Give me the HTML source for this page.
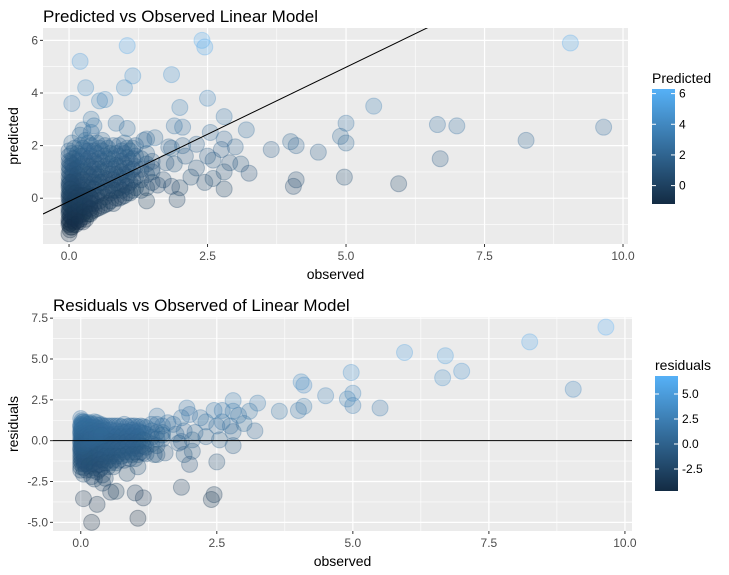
<!DOCTYPE html>
<html><head><meta charset="utf-8"><style>
body{margin:0;background:#fff;font-family:"Liberation Sans",Arial,sans-serif}
svg{display:block}
</style></head><body>
<svg id="c" width="729" height="575" xmlns="http://www.w3.org/2000/svg"></svg>
<script>
// ---- data ----
const groupObs = [0,0.05,0.1,0.2,0.3,0.4,0.5,0.6,0.7,0.8,0.9,1.0,1.1,1.2,1.3,1.4,1.5,
 0.02,0.07,0.15,0.25,0.35,0.45,0.55,0.65,0.75,0.85,0.95,1.05,1.15,0.03,0.12,0.18,0.28,0.38];
const groupPred = [
 [-1.35,-1.0,-0.8,-0.6,-0.4,-0.2,0,0.2,0.4,0.6,0.8,1.0,1.2,1.4,1.6,1.8,-0.9,-0.5,0.1,0.5],
 [-1.1,-0.7,-0.3,0.1,0.5,0.9,1.3,1.7,2.1],
 [-0.9,-0.5,-0.1,0.3,0.7,1.1,1.5,1.9],
 [-0.8,-0.4,0,0.4,0.8,1.2,1.6,2.0,2.4],
 [-0.8,-0.3,0.2,0.6,1.0,1.4,1.8,2.2],
 [-0.5,0,0.4,0.8,1.2,1.6,2.0,2.5],
 [-0.4,0.1,0.5,0.9,1.3,1.7,2.1],
 [-0.3,0.2,0.6,1.0,1.4,1.8,2.2],
 [-0.2,0.3,0.7,1.1,1.5,1.9],
 [-0.2,0.3,0.7,1.1,1.5,2.0],
 [0,0.4,0.8,1.2,1.6,2.0],
 [0.1,0.5,0.9,1.3,1.7,2.1],
 [0.2,0.6,1.0,1.4,1.8],
 [0.4,0.8,1.2,1.6,2.0],
 [0.3,0.7,1.1,1.5],
 [0.4,0.9,1.3,1.7],
 [0.6,1.0,1.4],
 [-1.2,-0.95,-0.7,-0.45,-0.25,-0.05,0.15,0.35,0.55,0.75,0.95,1.15,1.35],
 [-1.0,-0.75,-0.55,-0.35,-0.15,0.05,0.25,0.45,0.65,0.85,1.05,1.25,1.5],
 [-0.85,-0.6,-0.35,-0.15,0.05,0.25,0.45,0.65,0.9,1.15,1.4,1.7],
 [-0.9,-0.6,-0.2,0.1,0.3,0.5,0.7,1.0,1.3,1.6,1.9],
 [-0.6,-0.35,-0.1,0.15,0.4,0.65,0.9,1.2,1.5,1.8,2.1],
 [-0.45,-0.2,0.1,0.35,0.6,0.9,1.1,1.4,1.8],
 [-0.35,-0.1,0.25,0.6,0.8,1.1,1.5,1.9],
 [-0.25,0.05,0.4,0.75,1.2,1.6,2.0],
 [-0.1,0.2,0.5,0.9,1.3,1.7],
 [0.0,0.3,0.6,0.9,1.25,1.7],
 [0.05,0.3,0.65,1.0,1.4,1.8],
 [0.2,0.45,0.8,1.15,1.55,1.9],
 [0.3,0.7,1.1,1.5,1.9],
 [-1.1,-0.85,-0.65,-0.45,-0.3,-0.1,0.05,0.2,0.35,0.6],
 [-1.0,-0.75,-0.55,-0.35,-0.2,0.0,0.2],
 [-0.9,-0.65,-0.45,-0.25,-0.1,0.1],
 [-0.7,-0.5,-0.3,-0.1,0.1],
 [-0.6,-0.4,-0.2,0.05]
];
const obsOut = [9.05,9.65,8.25,7.0,6.65,6.7,5.95,5.5,5.0,4.9,5.0,4.97,4.5,4.1,4.0,3.65,4.1,4.05,3.2,3.0,2.8,2.5,2.4,2.45,1.85,2.0,2.05,1.9,2.8,2.75,2.55,2.3,2.9,3.1,3.25,2.8,2.8,2.5,2.6,2.1,2.3,2.0,1.95,2.2,2.45,2.6,1.05,0.2,1.15,1.0,0.3,0.05,0.55,0.65,0.85,1.05,0.4,0.45,0.25,1.4,1.55,1.35,1.8,1.85,2.05,1.9,1.75,1.6,1.7,1.4,1.85,1.5];
const predOut = [5.9,2.7,2.2,2.75,2.8,1.5,0.55,3.5,2.85,2.35,2.1,0.8,1.75,2.0,2.15,1.85,0.7,0.45,2.6,1.95,3.1,3.8,6.0,5.75,4.7,3.45,2.7,2.75,2.25,1.85,2.5,2.05,1.35,1.3,0.95,1.0,0.35,1.6,1.45,1.6,1.15,0.4,-0.05,0.8,0.6,0.75,5.8,5.2,4.65,4.2,4.2,3.6,3.7,3.75,2.85,2.65,3.0,2.75,2.6,2.25,2.3,2.2,1.95,1.9,2.0,1.3,1.35,0.5,0.7,-0.1,0.45,1.15];
const fitLine = [-0.12, 1.02]; // intercept, slope
const xTicks = [0,2.5,5,7.5,10];
const xTickLabels = ["0.0","2.5","5.0","7.5","10.0"];
const yTicksTop = [0,2,4,6];
const yTicksBot = [-5,-2.5,0,2.5,5,7.5];
const yTickLabelsBot = ["-5.0","-2.5","0.0","2.5","5.0","7.5"];
const legTopTicks = [0,2,4,6];
const legBotTicks = [-2.5,0,2.5,5];
const legBotLabels = ["-2.5","0.0","2.5","5.0"];

// ---- combine ----
const observed=[], predicted=[];
groupObs.forEach((o,i)=>groupPred[i].forEach(p=>{observed.push(o);predicted.push(p);}));
obsOut.forEach((o,i)=>{observed.push(o);predicted.push(predOut[i]);});
const residuals = observed.map((o,i)=>o-predicted[i]);

const svg=document.getElementById('c');
const NS='http://www.w3.org/2000/svg';
function mk(tag,attrs,parent){const e=document.createElementNS(NS,tag);for(const k in attrs)e.setAttribute(k,attrs[k]);(parent||svg).appendChild(e);return e;}
function lin(d0,d1,r0,r1){return v=>r0+(v-d0)/(d1-d0)*(r1-r0);}
function col(t){t=Math.max(0,Math.min(1,t));const a=[19,43,67],b=[86,177,247];return `rgb(${a.map((v,i)=>Math.round(v+(b[i]-v)*t)).join(',')})`;}

function panel(o){
  const g=mk('g',{});
  
  
  const bg=mk('rect',{x:o.L,y:o.T,width:o.R-o.L,height:o.B-o.T,fill:'#EBEBEB'},g);
  
  
  const X=lin(o.xd[0],o.xd[1],o.L,o.R), Y=lin(o.yd[0],o.yd[1],o.B,o.T);
  o.xminor.forEach(v=>mk('line',{x1:X(v),x2:X(v),y1:o.T,y2:o.B,stroke:'#fff','stroke-width':0.6},g));
  o.yminor.forEach(v=>mk('line',{y1:Y(v),y2:Y(v),x1:o.L,x2:o.R,stroke:'#fff','stroke-width':0.6},g));
  xTicks.forEach((v,i)=>{
    mk('line',{x1:X(v),x2:X(v),y1:o.T,y2:o.B,stroke:'#fff','stroke-width':1.2},g);
    mk('line',{x1:X(v),x2:X(v),y1:o.B,y2:o.B+3,stroke:'#333','stroke-width':1},g);
    const t=mk('text',{x:X(v),y:o.B+16,'text-anchor':'middle','font-size':12,fill:'#4D4D4D'},g);t.textContent=xTickLabels[i];
    
    
  });
  o.yt.forEach((v,i)=>{
    mk('line',{y1:Y(v),y2:Y(v),x1:o.L,x2:o.R,stroke:'#fff','stroke-width':1.2},g);
    mk('line',{y1:Y(v),y2:Y(v),x1:o.L-3,x2:o.L,stroke:'#333','stroke-width':1},g);
    const t=mk('text',{x:o.L-5,y:Y(v)+4,'text-anchor':'end','font-size':12,fill:'#4D4D4D'},g);t.textContent=o.ytl[i];
    
    
  });
  const cg=mk('g',{},g);
  observed.forEach((ov,i)=>{
    const yv=o.yv[i];
    const c=mk('circle',{cx:X(ov),cy:Y(yv),r:8,fill:col((o.cv[i]-o.cd[0])/(o.cd[1]-o.cd[0])),'fill-opacity':0.25,stroke:col((o.cv[i]-o.cd[0])/(o.cd[1]-o.cd[0])),'stroke-opacity':0.3},cg);
    
    
  });
  o.line(g,X,Y);
  const tt=mk('text',{x:o.L+0,y:o.T-6,'font-size':17,fill:'#000'},g);tt.textContent=o.title;
  
  
  const xt=mk('text',{x:(o.L+o.R)/2,y:o.B+35,'text-anchor':'middle','font-size':14,fill:'#000'},g);xt.textContent='observed';
  
  
  const yy=(o.T+o.B)/2;
  const yt=mk('text',{x:o.yTitleX,y:yy,'text-anchor':'middle','font-size':14,fill:'#000',transform:`rotate(-90 ${o.yTitleX} ${yy})`},g);yt.textContent=o.ytitle;
  
  
  // legend
  const lg=mk('g',{},g);
  
  
  const id='grad'+o.name;
  const gr=mk('linearGradient',{id:id,x1:0,y1:1,x2:0,y2:0},lg);
  mk('stop',{offset:0,'stop-color':col(0)},gr);mk('stop',{offset:1,'stop-color':col(1)},gr);
  mk('rect',{x:o.lx,y:o.lT,width:23,height:o.lB-o.lT,fill:`url(#${id})`},lg);
  const LY=lin(o.cd[0],o.cd[1],o.lB,o.lT);
  o.lt.forEach((v,i)=>{
    mk('line',{x1:o.lx,x2:o.lx+4,y1:LY(v),y2:LY(v),stroke:'#fff'},lg);
    mk('line',{x1:o.lx+19,x2:o.lx+23,y1:LY(v),y2:LY(v),stroke:'#fff'},lg);
    const t=mk('text',{x:o.lx+27,y:LY(v)+4,'font-size':12,fill:'#000'},lg);t.textContent=o.ltl[i];
  });
  const lt=mk('text',{x:o.lx,y:o.lT-6,'font-size':14,fill:'#000'},lg);lt.textContent=o.ltitle;
}

panel({name:'predicted-panel',L:43,R:628,T:28,B:244,xd:[-0.47,10.09],yd:[-1.74,6.47],
 xminor:[1.25,3.75,6.25,8.75],yminor:[-1,1,3,5],yt:yTicksTop,ytl:yTicksTop.map(String),
 yv:predicted,cv:predicted,cd:[-1.2,6.3],title:'Predicted vs Observed Linear Model',ytitle:'predicted',yTitleX:18,
 lx:652,lT:89,lB:204,lt:legTopTicks,ltl:legTopTicks.map(String),ltitle:'Predicted',
 line:(g,X,Y)=>{const x0=-0.47,x1=10.09;
   const cp=mk('clipPath',{id:'clipTop'},g);mk('rect',{x:43,y:28,width:585,height:216},cp);
   const l=mk('line',{x1:X(x0),y1:Y(fitLine[0]+fitLine[1]*x0),x2:X(x1),y2:Y(fitLine[0]+fitLine[1]*x1),stroke:'#000','stroke-width':1,'clip-path':'url(#clipTop)'},g);
   
   }
});
panel({name:'residuals-panel',L:53,R:632,T:317,B:531,xd:[-0.51,10.13],yd:[-5.53,7.57],
 xminor:[1.25,3.75,6.25,8.75],yminor:[-3.75,-1.25,1.25,3.75,6.25],yt:yTicksBot,ytl:yTickLabelsBot,
 yv:residuals,cv:residuals,cd:[-4.7,6.8],title:'Residuals vs Observed of Linear Model',ytitle:'residuals',yTitleX:18,
 lx:655,lT:376,lB:491,lt:legBotTicks,ltl:legBotLabels,ltitle:'residuals',
 line:(g,X,Y)=>{const l=mk('line',{x1:53,x2:632,y1:Y(0),y2:Y(0),stroke:'#000','stroke-width':1},g);
   
   }
});
</script>
</body></html>
